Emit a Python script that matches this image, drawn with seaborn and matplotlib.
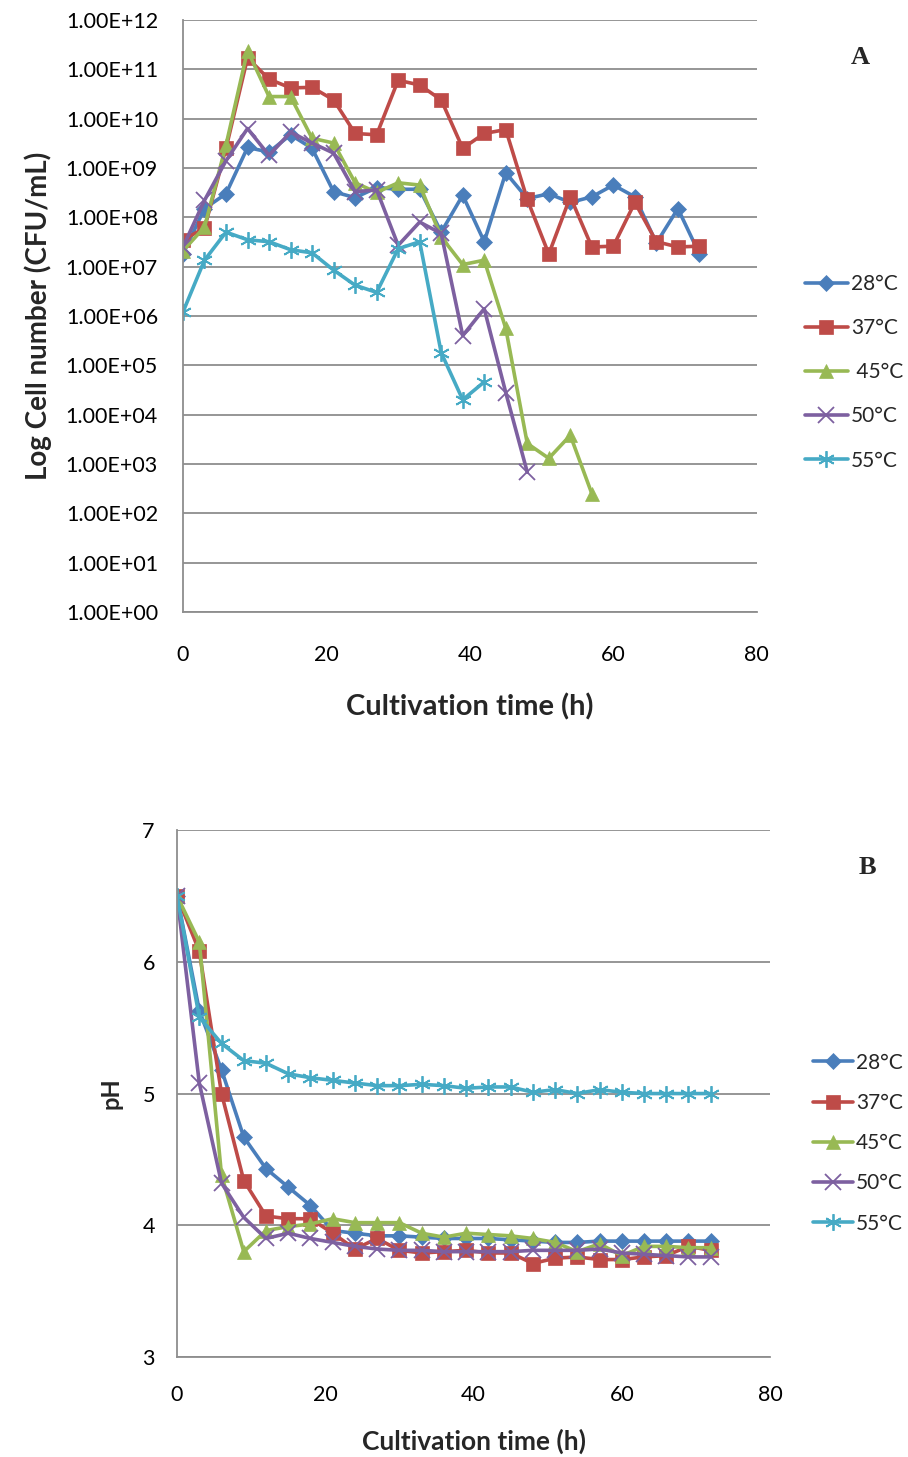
import numpy as np
import pandas as pd
import matplotlib
matplotlib.use("Agg")
import matplotlib.pyplot as plt
from matplotlib.ticker import FuncFormatter, FixedLocator
import seaborn as sns

# ---------------- data ----------------
hours = list(range(0, 73, 3))
labels = ["28°C", "37°C", "45°C", "50°C", "55°C"]
legend_a = ["28°C", "37°C", " 45°C", "50°C", "55°C"]

cells_28 = [1.8e7, 1.5e8, 3.0e8, 2.6e9, 2.1e9, 4.7e9, 2.5e9, 3.3e8, 2.5e8, 4.0e8, 3.7e8, 3.7e8, 5.0e7,
            2.8e8, 3.2e7, 8.0e8, 2.4e8, 3.0e8, 2.0e8, 2.6e8, 4.5e8, 2.6e8, 3.0e7, 1.5e8, 1.8e7]
cells_37 = [3.5e7, 6.0e7, 2.5e9, 1.7e11, 6.3e10, 4.2e10, 4.3e10, 2.4e10, 5.0e9, 4.7e9, 6.0e10, 4.8e10, 2.4e10,
            2.5e9, 5.0e9, 6.0e9, 2.3e8, 1.8e7, 2.6e8, 2.5e7, 2.6e7, 2.0e8, 3.2e7, 2.5e7, 2.6e7]
cells_45 = [2.1e7, 6.3e7, 2.9e9, 2.4e11, 2.8e10, 2.8e10, 4.0e9, 3.2e9, 5.0e8, 3.2e8, 5.0e8, 4.5e8, 4.0e7,
            1.1e7, 1.35e7, 5.6e5, 2.6e3, 1.3e3, 3.8e3, 2.5e2]
cells_50 = [2.5e7, 2.2e8, 1.4e9, 6.3e9, 1.8e9, 5.3e9, 3.2e9, 2.0e9, 3.3e8, 3.6e8, 2.7e7, 8.0e7, 4.7e7,
            4.0e5, 1.4e6, 2.8e4, 6.8e2]
cells_55 = [1.2e6, 1.35e7, 5.0e7, 3.5e7, 3.2e7, 2.2e7, 1.9e7, 8.5e6, 4.2e6, 3.0e6, 2.3e7, 3.2e7, 1.8e5,
            2.0e4, 4.6e4]

ph_28 = [6.5, 5.63, 5.18, 4.67, 4.43, 4.29, 4.15, 3.96, 3.94, 3.92, 3.92, 3.91, 3.9, 3.9, 3.9, 3.89, 3.88,
         3.87, 3.87, 3.88, 3.88, 3.88, 3.88, 3.88, 3.88]
ph_37 = [6.5, 6.08, 5.0, 4.34, 4.07, 4.05, 4.05, 3.94, 3.82, 3.9, 3.81, 3.79, 3.8, 3.81, 3.79, 3.79, 3.71,
         3.75, 3.76, 3.74, 3.74, 3.76, 3.77, 3.84, 3.81]
ph_45 = [6.5, 6.15, 4.38, 3.8, 3.96, 3.99, 4.01, 4.05, 4.02, 4.02, 4.02, 3.94, 3.91, 3.94, 3.93, 3.92, 3.9,
         3.87, 3.8, 3.86, 3.77, 3.84, 3.84, 3.83, 3.83]
ph_50 = [6.5, 5.08, 4.32, 4.06, 3.9, 3.94, 3.9, 3.87, 3.84, 3.82, 3.81, 3.81, 3.8, 3.8, 3.8, 3.8, 3.81,
         3.81, 3.81, 3.82, 3.79, 3.78, 3.77, 3.76, 3.76]
ph_55 = [6.5, 5.58, 5.38, 5.25, 5.23, 5.15, 5.12, 5.1, 5.08, 5.06, 5.06, 5.07, 5.06, 5.04, 5.05, 5.05, 5.01,
         5.03, 5.0, 5.03, 5.01, 5.0, 5.0, 5.0, 5.0]

x_ticks = [0, 20, 40, 60, 80]
cell_ticks = [10.0 ** k for k in range(0, 13)]
ph_ticks = [3, 4, 5, 6, 7]

# ---------------- style ----------------
sns.set_theme(style="white")
FONT = ["Lato", "DejaVu Sans"]
plt.rcParams["font.family"] = FONT
colors = ["#4A7EBB", "#BE4B48", "#98B954", "#7D60A0", "#46AAC5"]
markers = ["D", "s", "^", "x", (6, 2, 0)]
msizes = [8, 10, 10, 11, 12]
GRID = "#8E8E8E"

fig = plt.figure(figsize=(9.08, 14.57), dpi=100)
axA = fig.add_axes([0.2015, 0.58, 0.632, 0.4063])
axB = fig.add_axes([0.195, 0.0686, 0.653, 0.3617])


def style_axes(ax):
    for s in ["top", "right"]:
        ax.spines[s].set_visible(False)
    for s in ["left", "bottom"]:
        ax.spines[s].set_color(GRID)
        ax.spines[s].set_linewidth(1.3)
    ax.grid(False)
    ax.yaxis.grid(True, color=GRID, linewidth=1.3)
    ax.set_axisbelow(True)
    ax.tick_params(axis="both", length=0, colors="black")


# ---------------- panel A ----------------
series_a = [cells_28, cells_37, cells_45, cells_50, cells_55]
for vals, lab, c, m, ms in zip(series_a, legend_a, colors, markers, msizes):
    df = pd.DataFrame({"t": hours[:len(vals)], "v": vals})
    sns.lineplot(data=df, x="t", y="v", ax=axA, color=c, marker=m, markersize=ms,
                 markeredgecolor=c, markeredgewidth=1.3 if m in ("x", (6, 2, 0)) else 0.5,
                 linewidth=2.6, label=lab)
axA.set_yscale("log")
axA.set_ylim(1, 1e12)
axA.set_xlim(0, 80)
axA.yaxis.set_major_locator(FixedLocator(cell_ticks))
axA.yaxis.set_minor_locator(FixedLocator([]))
axA.yaxis.set_major_formatter(FuncFormatter(lambda v, p: f"{v:.2E}"))
axA.set_xticks(x_ticks)
style_axes(axA)
axA.tick_params(axis="y", pad=18, labelsize=15.5)
axA.tick_params(axis="x", pad=24, labelsize=15.5)
axA.set_xlabel("Cultivation time (h)", fontsize=21, fontweight="bold", labelpad=20)
axA.set_ylabel("Log Cell number (CFU/mL)", fontsize=20, fontweight="bold", labelpad=10)
axA.legend(loc="center left", bbox_to_anchor=(1.0836, 0.405), frameon=False, fontsize=15,
           handlelength=2.07, handletextpad=0.15, labelspacing=1.16, borderpad=0, borderaxespad=0)
fig.text(860 / 908, 1 - 58 / 1457, "A", fontsize=19, fontweight="bold",
         family="Liberation Serif", ha="center", va="center")

# ---------------- panel B ----------------
series_b = [ph_28, ph_37, ph_45, ph_50, ph_55]
for vals, lab, c, m, ms in zip(series_b, labels, colors, markers, msizes):
    df = pd.DataFrame({"t": hours[:len(vals)], "v": vals})
    sns.lineplot(data=df, x="t", y="v", ax=axB, color=c, marker=m, markersize=ms,
                 markeredgecolor=c, markeredgewidth=1.3 if m in ("x", (6, 2, 0)) else 0.5,
                 linewidth=2.6, label=lab)
axB.set_ylim(3, 7)
axB.set_xlim(0, 80)
axB.set_yticks(ph_ticks)
axB.set_xticks(x_ticks)
style_axes(axB)
axB.tick_params(axis="y", pad=16, labelsize=15.5)
axB.tick_params(axis="x", pad=20, labelsize=15.5)
axB.set_xlabel("Cultivation time (h)", fontsize=19, fontweight="bold", labelpad=17)
axB.set_ylabel("pH", fontsize=17, fontweight="bold", labelpad=14)
axB.legend(loc="center left", bbox_to_anchor=(1.072, 0.406), frameon=False, fontsize=15,
           handlelength=1.92, handletextpad=0.15, labelspacing=0.97, borderpad=0, borderaxespad=0)
fig.text(867 / 908, 1 - 868 / 1457, "B", fontsize=19, fontweight="bold",
         family="Liberation Serif", ha="center", va="center")

fig.savefig("out.png", dpi=100)
